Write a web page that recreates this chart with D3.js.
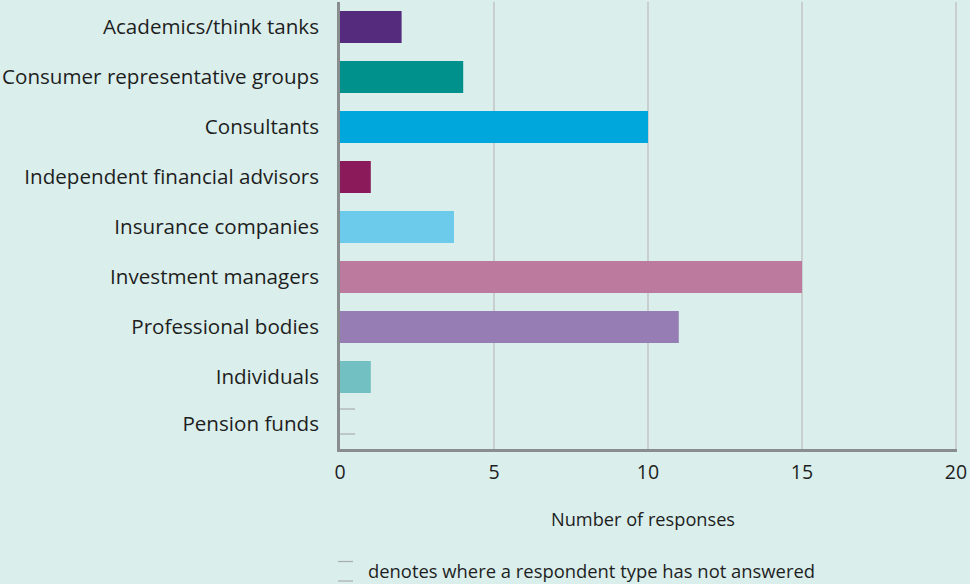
<!DOCTYPE html>
<html>
<head>
<meta charset="utf-8">
<script src="https://cdn.jsdelivr.net/npm/d3@7"></script>
<style>
  html, body { margin: 0; padding: 0; background: #daeeec; }
  svg { display: block; }
  text { font-family: "Open Sans", sans-serif; fill: #1e1e1e; }
</style>
</head>
<body>
<svg id="chart" width="970" height="584"></svg>
<script>
// Respondent types and number of responses
const categories = [
  "Academics/think tanks",
  "Consumer representative groups",
  "Consultants",
  "Independent financial advisors",
  "Insurance companies",
  "Investment managers",
  "Professional bodies",
  "Individuals",
  "Pension funds"
];
const responses = [2, 4, 10, 1, 3.7, 15, 11, 1, null];
const barColors = ["#552b7e", "#00918c", "#00a7dc", "#8b1a5a", "#6ccaea", "#bc7a9f", "#967db3", "#72c0c1", "#aaaaaa"];
const xTicks = [0, 5, 10, 15, 20];
const xTitle = "Number of responses";
const noteText = "denotes where a respondent type has not answered";

const svg = d3.select("#chart");
const margin = { left: 340, right: 14, top: 2, bottom: 132 };

const x = d3.scaleLinear().domain([0, 20]).range([margin.left, 956]);
const y = d3.scaleBand().domain(categories).range([margin.top, 452]).paddingInner(0.36).paddingOuter(0.18);

// vertical gridlines
svg.append("g")
  .selectAll("line")
  .data(xTicks.filter(d => d > 0))
  .join("line")
  .attr("x1", d => x(d)).attr("x2", d => x(d))
  .attr("y1", 2).attr("y2", 450)
  .attr("stroke", "#c9cfcf").attr("stroke-width", 2);

// bars
const rows = categories.map((c, i) => ({ c, v: responses[i], color: barColors[i] }));
svg.append("g")
  .selectAll("rect")
  .data(rows.filter(d => d.v != null))
  .join("rect")
  .attr("x", x(0))
  .attr("y", d => y(d.c))
  .attr("width", d => x(d.v) - x(0))
  .attr("height", y.bandwidth())
  .attr("fill", d => d.color);

// small dashes marking unanswered respondent types
const cy = c => y(c) + y.bandwidth() / 2;
const missing = rows.filter(d => d.v == null);
missing.forEach(d => {
  [-18, 7].forEach(off => {
    svg.append("line")
      .attr("x1", x(0)).attr("x2", x(0) + 15)
      .attr("y1", cy(d.c) + off).attr("y2", cy(d.c) + off)
      .attr("stroke", "#a9adad").attr("stroke-width", 1.2);
  });
});

// category labels
svg.append("g")
  .selectAll("text")
  .data(categories)
  .join("text")
  .attr("x", 319)
  .attr("y", d => d === "Pension funds" ? cy(d) - 3 : cy(d))
  .attr("dy", "0.35em")
  .attr("text-anchor", "end")
  .attr("font-size", 20.6)
  .text(d => d);

// axes lines
svg.append("line")
  .attr("x1", 338.5).attr("x2", 338.5).attr("y1", 2).attr("y2", 452)
  .attr("stroke", "#8a8d8d").attr("stroke-width", 3);
svg.append("line")
  .attr("x1", 337).attr("x2", 957).attr("y1", 450.5).attr("y2", 450.5)
  .attr("stroke", "#8a8d8d").attr("stroke-width", 3);

// tick labels
svg.append("g")
  .selectAll("text")
  .data(xTicks)
  .join("text")
  .attr("x", d => x(d))
  .attr("y", 479)
  .attr("text-anchor", "middle")
  .attr("font-size", 19.5)
  .text(d => d);

// axis title
svg.append("text")
  .attr("x", 643).attr("y", 526)
  .attr("text-anchor", "middle")
  .attr("font-size", 18.2)
  .text(xTitle);

// note
[561.5, 581].forEach(yy => {
  svg.append("line")
    .attr("x1", 338).attr("x2", 353).attr("y1", yy).attr("y2", yy)
    .attr("stroke", "#a9adad").attr("stroke-width", 1.2);
});
svg.append("text")
  .attr("x", 368).attr("y", 578)
  .attr("font-size", 18.4)
  .text(noteText);
</script>
</body>
</html>
